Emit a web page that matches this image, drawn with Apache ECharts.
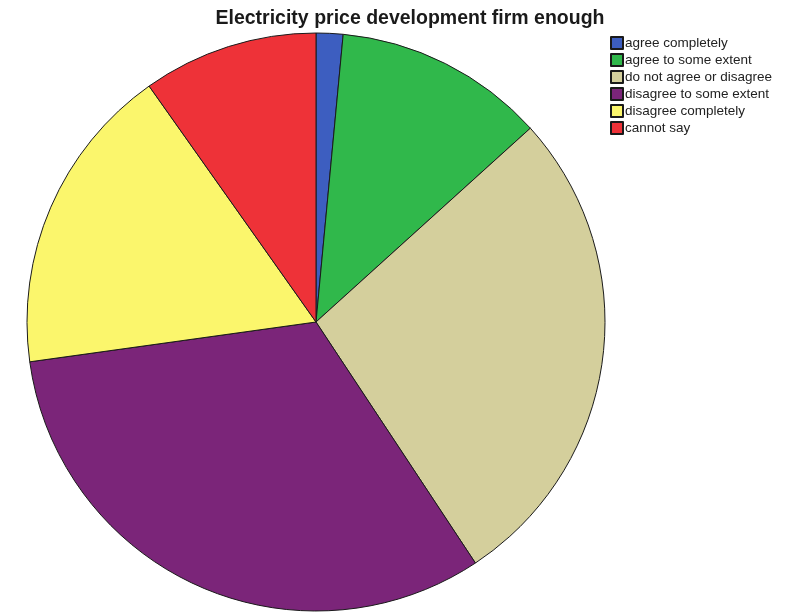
<!DOCTYPE html>
<html>
<head>
<meta charset="utf-8">
<style>
  html, body { margin: 0; padding: 0; background: #ffffff; }
  #chart { width: 794px; height: 613px; }
</style>
<script src="https://cdn.jsdelivr.net/npm/echarts@6/dist/echarts.min.js"></script>
</head>
<body>
<div id="chart"></div>
<script>
// Survey answers, percent of respondents
const categories = [
  'agree completely',
  'agree to some extent',
  'do not agree or disagree',
  'disagree to some extent',
  'disagree completely',
  'cannot say'
];
const shares = [1.5, 11.8, 27.4, 32.1, 17.4, 9.8];
const colors = ['#3d5ec0', '#30b84b', '#d4cf9c', '#7b2579', '#fbf66c', '#ee3238'];

const chart = echarts.init(document.getElementById('chart'));
chart.setOption({
  animation: false,
  title: {
    text: 'Electricity price development firm enough',
    left: 410,
    top: 9,
    padding: 0,
    textAlign: 'center',
    textStyle: { fontFamily: 'Liberation Sans, Arial, sans-serif', fontSize: 19.5, fontWeight: 'bold', color: '#1a1a1a' }
  },
  legend: {
    orient: 'vertical',
    left: 610,
    top: 36,
    padding: 0,
    itemWidth: 12,
    itemHeight: 12,
    itemGap: 3,
    icon: 'rect',
    textStyle: {
      fontFamily: 'Liberation Sans, Arial, sans-serif',
      fontSize: 13.5,
      lineHeight: 14,
      color: '#222',
      padding: [0, 0, 0, -3]
    },
    data: categories
  },
  series: [{
    type: 'pie',
    center: [316, 322],
    radius: 289,
    startAngle: 90,
    clockwise: true,
    label: { show: false },
    labelLine: { show: false },
    emphasis: { disabled: true },
    itemStyle: { borderColor: '#1a1a1a', borderWidth: 1 },
    data: categories.map((name, i) => ({
      name,
      value: shares[i],
      itemStyle: { color: colors[i] }
    }))
  }]
});
</script>
</body>
</html>
